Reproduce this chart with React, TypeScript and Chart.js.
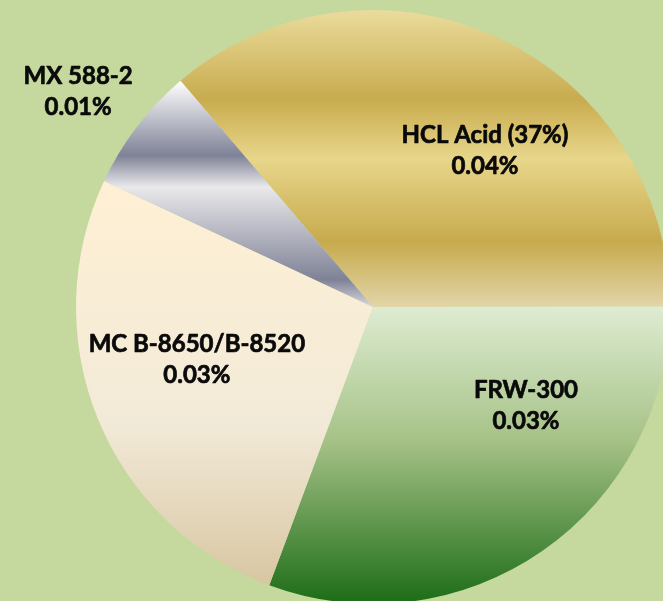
import React, { useEffect, useRef } from "react";
import { Chart, registerables } from "chart.js";

Chart.register(...registerables);

// ---- data ----
const categories = ["HCL Acid (37%)", "FRW-300", "MC B-8650/B-8520", "MX 588-2"];
const values = [0.0362, 0.0307, 0.0263, 0.0068];

// ---- layout / style (not data) ----
const ROTATION = -40.4;
const BG = "#C5D89E";
// label centre offsets, in units of the pie radius, from pie centre
const labelOffsets: [number, number][] = [
  [0.377, -0.525],
  [0.515, 0.333],
  [-0.593, 0.178],
  [-0.993, -0.724],
];
// gradient stops per slice (fraction of slice vertical extent, colour)
const gradientStops: [number, string][][] = [
  [
    [0, "#EADC9C"],
    [0.3, "#C8AB4E"],
    [0.5, "#E7D68A"],
    [0.78, "#C7AA4D"],
    [1, "#E2D5A8"],
  ],
  [
    [0, "#DEECD2"],
    [0.45, "#A6C287"],
    [1, "#1C6C16"],
  ],
  [
    [0, "#FFF0D4"],
    [0.6, "#F2EAD8"],
    [1, "#D8C6A2"],
  ],
  [
    [0, "#FFFFFF"],
    [0.33, "#7F8297"],
    [0.47, "#E9E9EB"],
    [0.88, "#7F8297"],
    [1, "#DADADF"],
  ],
];

function sliceYBounds(index: number) {
  const total = values.reduce((a, b) => a + b, 0);
  let start = (ROTATION * Math.PI) / 180 - Math.PI / 2;
  for (let i = 0; i < index; i++) start += (values[i] / total) * Math.PI * 2;
  const end = start + (values[index] / total) * Math.PI * 2;
  const ys = [0, Math.sin(start), Math.sin(end)];
  for (let k = -4; k <= 4; k++) {
    const a = -Math.PI / 2 + k * Math.PI;
    if (a > start && a < end) ys.push(Math.sin(a));
  }
  return [Math.min(...ys), Math.max(...ys)];
}

const labelPlugin = {
  id: "sliceLabels",
  afterDatasetsDraw(chart: any) {
    const meta = chart.getDatasetMeta(0);
    const arc = meta.data[0];
    if (!arc) return;
    const cx = arc.x;
    const cy = arc.y;
    const r = arc.outerRadius;
    const ctx = chart.ctx;
    ctx.save();
    ctx.fillStyle = "#0A0A0A";
    ctx.strokeStyle = "#0A0A0A";
    ctx.lineWidth = 0.7;
    ctx.lineJoin = "round";
    ctx.font = "bold 24px Lato, Carlito, 'Liberation Sans Narrow', sans-serif";
    ctx.textAlign = "center";
    ctx.textBaseline = "middle";
    const lh = 31;
    categories.forEach((c, i) => {
      const x = cx + labelOffsets[i][0] * r;
      const y = cy + labelOffsets[i][1] * r;
      const pct = values[i].toFixed(2) + "%";
      ctx.fillText(c, x, y - lh / 2);
      ctx.strokeText(c, x, y - lh / 2);
      ctx.fillText(pct, x, y + lh / 2);
      ctx.strokeText(pct, x, y + lh / 2);
    });
    ctx.restore();
  },
};

export default function App() {
  const ref = useRef<HTMLCanvasElement | null>(null);
  useEffect(() => {
    if (!ref.current) return;
    const chart = new Chart(ref.current, {
      type: "pie",
      data: {
        labels: categories,
        datasets: [
          {
            data: values,
            borderWidth: 0,
            backgroundColor: (context: any) => {
              const ch = context.chart;
              const area = ch.chartArea;
              const i = context.dataIndex;
              if (!area || i === undefined) return "#cccccc";
              const cx = (area.left + area.right) / 2;
              const cy = (area.top + area.bottom) / 2;
              const r = Math.min(area.right - area.left, area.bottom - area.top) / 2;
              const [y0, y1] = sliceYBounds(i);
              const g = ch.ctx.createLinearGradient(0, cy + y0 * r, 0, cy + y1 * r);
              gradientStops[i].forEach(([f, col]) => g.addColorStop(f, col));
              return g;
            },
          },
        ],
      },
      options: {
        responsive: true,
        maintainAspectRatio: false,
        animation: false,
        rotation: ROTATION,
        layout: { padding: { left: 76, top: 10, right: 10, bottom: 16 } },
        plugins: {
          legend: { display: false },
          tooltip: { enabled: false },
        },
      },
      plugins: [labelPlugin],
    });
    return () => chart.destroy();
  }, []);

  return (
    <div
      style={{
        position: "fixed",
        left: 0,
        top: 0,
        width: "100vw",
        height: "100vh",
        background: BG,
        overflow: "hidden",
      }}
    >
      <div style={{ position: "absolute", left: 0, top: 0, width: 680, height: 620 }}>
        <canvas ref={ref} />
      </div>
    </div>
  );
}
